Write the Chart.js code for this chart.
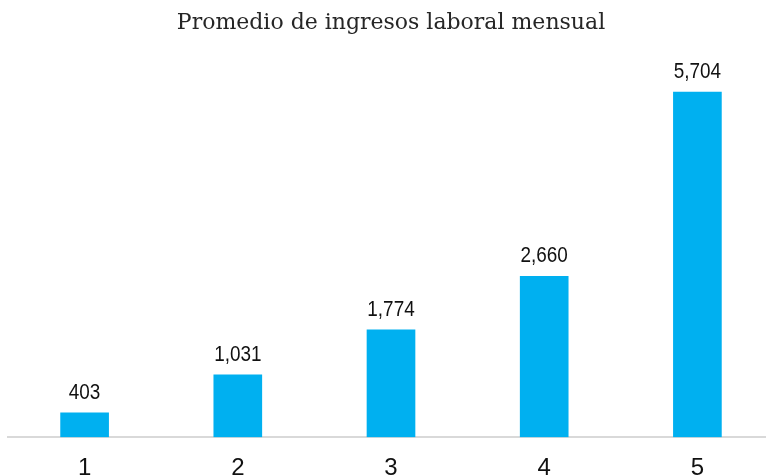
<!DOCTYPE html>
<html>
<head>
<meta charset="utf-8">
<script src="https://cdn.jsdelivr.net/npm/chart.js@4"></script>
<style>
  html, body { margin: 0; padding: 0; background: #fff; overflow: hidden; }
  #wrap { position: relative; width: 782px; height: 492px; }
</style>
</head>
<body>
<div id="wrap"><canvas id="ingresosChart"></canvas></div>
<script>
const quintiles = ["1", "2", "3", "4", "5"];
const ingresos = [403, 1031, 1774, 2660, 5704];

// no narrow sans available, so squeeze Liberation Sans horizontally
const NARROW = 0.86;

// prints the value above each bar, e.g. 5,704
const valueLabels = {
  id: "valueLabels",
  afterDatasetsDraw(chart) {
    const ctx = chart.ctx;
    const meta = chart.getDatasetMeta(0);
    meta.data.forEach(function(bar, i) {
      ctx.save();
      ctx.font = "22px 'Liberation Sans', Arial, sans-serif";
      ctx.fillStyle = "#111111";
      ctx.textAlign = "center";
      ctx.textBaseline = "bottom";
      ctx.translate(bar.x, bar.y - 9);
      ctx.scale(NARROW, 1);
      ctx.fillText(ingresos[i].toLocaleString("en-US"), 0, 0);
      ctx.restore();
    });
  }
};

document.addEventListener("DOMContentLoaded", function() {
  const ctx = document.getElementById("ingresosChart").getContext("2d");
  new Chart(ctx, {
    type: "bar",
    data: {
      labels: quintiles,
      datasets: [{
        data: ingresos,
        backgroundColor: "#00B0F0",
        barThickness: 48
      }]
    },
    options: {
      responsive: true,
      maintainAspectRatio: false,
      animation: false,
      layout: { padding: { left: 8, right: 8, top: 0, bottom: 0 } },
      plugins: {
        legend: { display: false },
        tooltip: { enabled: false },
        title: {
          display: true,
          text: "Promedio de ingresos laboral mensual",
          color: "#262626",
          font: { family: "'DejaVu Serif', serif", size: 22, weight: "normal" },
          padding: { top: 10, bottom: 27 }
        }
      },
      scales: {
        x: {
          grid: { display: false },
          border: { display: true, color: "#d9d9d9", width: 2 },
          ticks: {
            color: "#111111",
            padding: 9,
            font: { family: "'Liberation Sans', Arial, sans-serif", size: 24 }
          }
        },
        y: {
          display: false,
          min: 0,
          max: 6180
        }
      }
    },
    plugins: [valueLabels]
  });
});
</script>
</body>
</html>
